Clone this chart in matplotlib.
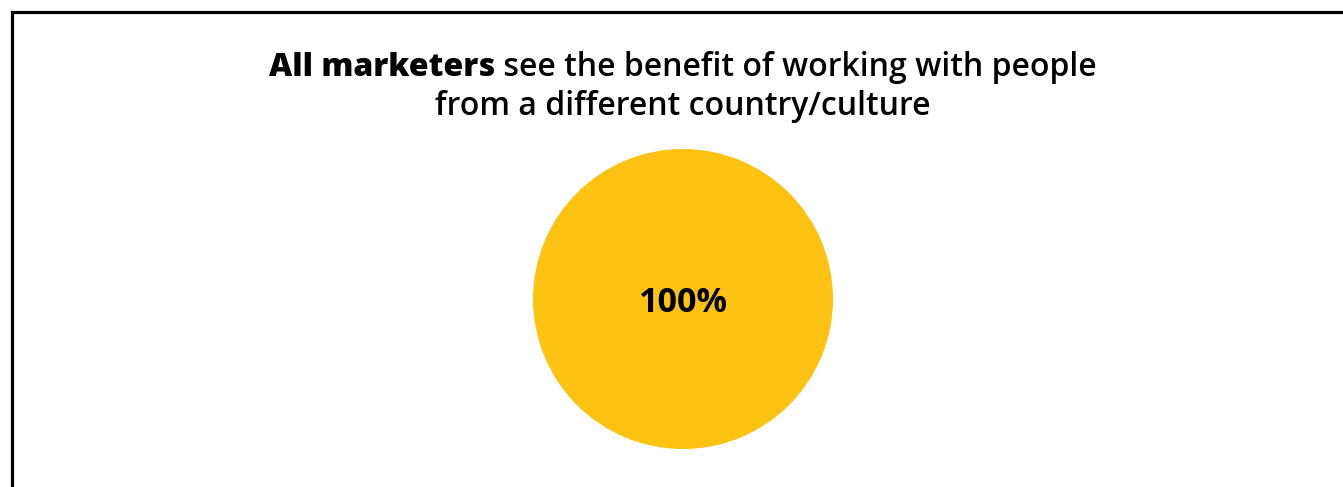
import matplotlib.pyplot as plt
from matplotlib.patches import Rectangle

# data
labels = ['Yes']
shares = [100]
pie_colors = ['#FDC212']

title_bold = 'All marketers'
title_rest = ' see the benefit of working with people'
title_line2 = 'from a different country/culture'

W, H = 1343, 487
fig = plt.figure(figsize=(W / 100, H / 100), dpi=100)
fig.patch.set_facecolor('white')

# frame (runs off the right and bottom edges)
fig.patches.append(Rectangle((11.5 / W, -0.1), 1.2, (H - 11.5) / H + 0.1,
                             transform=fig.transFigure, fill=False,
                             edgecolor='black', linewidth=2.3))

cx, cy, r = 683, 299, 150

# title: heavy lead-in followed by regular text, centred as one line
fs = 23
renderer = fig.canvas.get_renderer()
t1 = fig.text(0, 0, title_bold, fontsize=fs, fontweight=800, family='Open Sans',
              va='baseline')
t2 = fig.text(0, 0, title_rest, fontsize=fs, fontweight='semibold', family='Open Sans',
              va='baseline')
w1 = t1.get_window_extent(renderer).width
w2 = t2.get_window_extent(renderer).width
x0 = (cx - (w1 + w2) / 2) / W
y1 = (H - 76) / H
t1.set_position((x0, y1))
t2.set_position((x0 + w1 / W, y1))
fig.text(cx / W, (H - 115) / H, title_line2, fontsize=fs, fontweight='semibold',
         family='Open Sans', ha='center', va='baseline')

# pie
ax = fig.add_axes([(cx - r) / W, (H - cy - r) / H, 2 * r / W, 2 * r / H])
wedges, texts, autotexts = ax.pie(shares, colors=pie_colors, autopct='%d%%',
                                  pctdistance=0, startangle=90,
                                  textprops=dict(fontsize=24.5, fontweight='bold',
                                                 family='Open Sans', color='black'))
for t in autotexts:
    t.set_va('baseline')
    t.set_position((0, -12.5 / r))
ax.set_xlim(-1, 1)
ax.set_ylim(-1, 1)
ax.set_aspect('equal')
ax.axis('off')

fig.savefig('out.png', dpi=100)
